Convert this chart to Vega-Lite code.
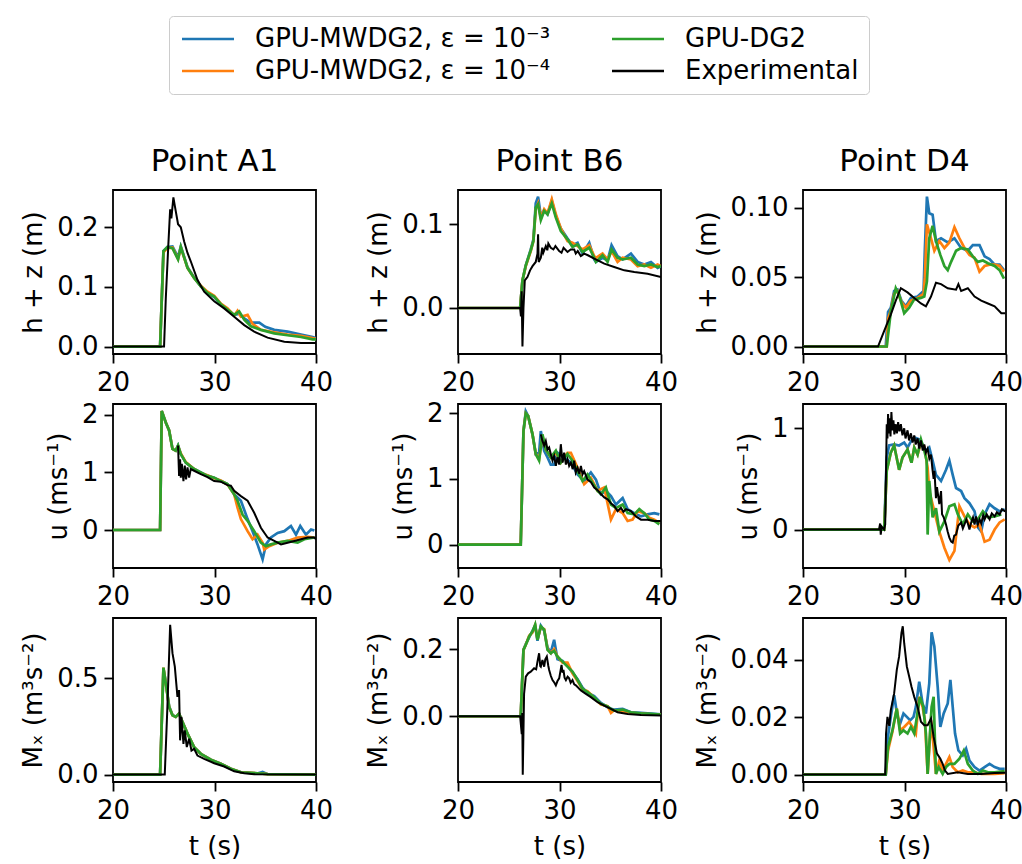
{
"$schema": "https://vega.github.io/schema/vega-lite/v6.json",
"padding": {"left": 19, "top": 15, "right": 5, "bottom": 5},
"background": "white",
"config": {
  "font": "DejaVu Sans",
  "view": {"stroke": "black", "strokeWidth": 1.8},
  "axis": {"grid": false, "domain": false, "tickColor": "black", "tickWidth": 1.8, "tickSize": 9, "labelColor": "black", "labelFontSize": 26, "labelPadding": 6, "titleFontSize": 26, "titleFontWeight": "normal", "titleColor": "black", "titlePadding": 10, "labelFlush": false},
  "title": {"fontSize": 31, "fontWeight": "normal", "color": "black", "offset": 12},
  "legend": {"labelFontSize": 26, "labelColor": "black"}
},
"datasets": {
"A1h": [
{"t":20,"a":0,"b":0,"c":0},{"t":24.64,"a":0,"b":0,"c":0},{"t":24.97,"a":0.16,"b":0.158,"c":0.16},{"t":25.36,"a":0.167,"b":0.165,"c":0.167},{"t":25.86,"a":0.168,"b":0.166,"c":0.165},{"t":26.41,"a":0.15,"b":0.147,"c":0.146},{"t":26.68,"a":0.168,"b":0.166,"c":0.167},{"t":27.34,"a":0.133,"b":0.132,"c":0.132},{"t":27.99,"a":0.116,"b":0.115,"c":0.115},{"t":28.65,"a":0.101,"b":0.102,"c":0.101},{"t":29.31,"a":0.09,"b":0.092,"c":0.09},{"t":29.97,"a":0.083,"b":0.085,"c":0.084},{"t":30.62,"a":0.071,"b":0.072,"c":0.071},{"t":31.28,"a":0.062,"b":0.064,"c":0.062},{"t":31.94,"a":0.053,"b":0.052,"c":0.053},{"t":32.27,"b":0.06},{"t":32.43,"a":0.055,"c":0.059},{"t":32.6,"b":0.05},{"t":32.93,"a":0.047,"c":0.045},{"t":33.26,"b":0.053},{"t":33.59,"a":0.04,"c":0.034},{"t":33.75,"b":0.038},{"t":34.41,"a":0.04},{"t":34.57,"b":0.028,"c":0.028},{"t":35.0,"a":0.033},{"t":35.89,"a":0.028,"b":0.024,"c":0.022},{"t":37.2,"a":0.025,"b":0.02,"c":0.019},{"t":38.52,"a":0.02,"b":0.018,"c":0.016},{"t":39.67,"a":0.016,"b":0.014,"c":0.012},{"t":40,"a":0.014,"b":0.013,"c":0.012},
{"t":20,"e":0},{"t":25.03,"e":0},{"t":25.2,"e":0.08},{"t":25.45,"e":0.17},{"t":25.63,"e":0.23},{"t":25.75,"e":0.215},{"t":25.95,"e":0.25},{"t":26.1,"e":0.235},{"t":26.41,"e":0.205},{"t":26.68,"e":0.2},{"t":27.01,"e":0.176},{"t":27.34,"e":0.157},{"t":27.66,"e":0.143},{"t":28.32,"e":0.112},{"t":28.98,"e":0.092},{"t":29.97,"e":0.076},{"t":30.95,"e":0.064},{"t":31.94,"e":0.05},{"t":32.93,"e":0.036},{"t":33.91,"e":0.025},{"t":35.23,"e":0.015},{"t":36.88,"e":0.008},{"t":38.52,"e":0.006},{"t":40,"e":0.006}
],
"B6h": [
{"t":20,"a":0,"b":0,"c":0},{"t":26.12,"a":0,"b":0,"c":0},{"t":26.35,"a":0.033,"b":0.033,"c":0.033},{"t":26.68,"a":0.051,"b":0.05,"c":0.051},{"t":27.17,"a":0.07,"b":0.068,"c":0.069},{"t":27.43,"a":0.082,"b":0.08,"c":0.08},{"t":27.66,"a":0.125,"b":0.118,"c":0.12},{"t":27.89,"a":0.133,"b":0.125,"c":0.124},{"t":28.16,"a":0.11,"b":0.108,"c":0.105},{"t":28.49,"a":0.117,"b":0.118,"c":0.116},{"t":28.82,"a":0.112,"b":0.113,"c":0.112},{"t":29.24,"a":0.128,"b":0.13,"c":0.125},{"t":29.64,"a":0.11,"b":0.112,"c":0.108},{"t":30.13,"a":0.095,"b":0.095,"c":0.092},{"t":30.79,"a":0.083,"b":0.08,"c":0.082},{"t":31.28,"a":0.075,"b":0.078,"c":0.073},{"t":31.78,"a":0.078,"b":0.074,"c":0.076},{"t":32.27,"a":0.065,"b":0.07,"c":0.067},{"t":32.93,"a":0.078,"b":0.075,"c":0.072},{"t":33.42,"a":0.058,"b":0.062,"c":0.06},{"t":33.59,"a":0.055,"b":0.06,"c":0.055},{"t":34.24,"a":0.06,"b":0.065,"c":0.063},{"t":34.74,"a":0.057,"b":0.058,"c":0.055},{"t":35.13,"a":0.075,"b":0.068,"c":0.07},{"t":35.72,"a":0.062,"b":0.055,"c":0.06},{"t":36.22,"a":0.058,"b":0.06,"c":0.058},{"t":37.04,"a":0.065,"b":0.058,"c":0.06},{"t":37.7,"a":0.055,"b":0.05,"c":0.052},{"t":38.36,"a":0.052,"b":0.052,"c":0.05},{"t":39.01,"a":0.055,"b":0.048,"c":0.052},{"t":39.67,"a":0.048,"b":0.052,"c":0.049},{"t":40,"a":0.05,"b":0.05,"c":0.05},
{"t":20,"e":0},{"t":26.12,"e":0},{"t":26.2,"e":-0.01},{"t":26.27,"e":0.02},{"t":26.35,"e":-0.046},{"t":26.45,"e":0.0},{"t":26.58,"e":0.033},{"t":26.84,"e":0.037},{"t":27.1,"e":0.045},{"t":27.34,"e":0.05},{"t":27.66,"e":0.055},{"t":27.83,"e":0.065},{"t":27.89,"e":0.088},{"t":27.95,"e":0.055},{"t":28.16,"e":0.06},{"t":28.3,"e":0.072},{"t":28.4,"e":0.066},{"t":28.65,"e":0.074},{"t":28.8,"e":0.069},{"t":28.9,"e":0.077},{"t":29.14,"e":0.072},{"t":29.4,"e":0.07},{"t":29.6,"e":0.074},{"t":29.97,"e":0.068},{"t":30.2,"e":0.066},{"t":30.4,"e":0.072},{"t":30.79,"e":0.067},{"t":31.1,"e":0.07},{"t":31.45,"e":0.07},{"t":31.6,"e":0.065},{"t":31.8,"e":0.068},{"t":32.1,"e":0.062},{"t":32.43,"e":0.065},{"t":32.8,"e":0.063},{"t":33.42,"e":0.059},{"t":34.41,"e":0.053},{"t":35.39,"e":0.049},{"t":36.38,"e":0.045},{"t":37.37,"e":0.043},{"t":38.68,"e":0.041},{"t":40,"e":0.037}
],
"D4h": [
{"t":20,"a":0,"b":0,"c":0},{"t":28.15,"a":0},{"t":28.38,"a":0.025},{"t":28.65,"a":0.028},{"t":28.98,"a":0.04},{"t":29.31,"a":0.041},{"t":29.7,"a":0.033},{"t":30.13,"a":0.029},{"t":30.63,"a":0.035},{"t":31.29,"a":0.036},{"t":31.88,"a":0.04},{"t":32.01,"a":0.071},{"t":32.21,"a":0.108},{"t":32.44,"a":0.096},{"t":32.77,"a":0.095},{"t":33.1,"a":0.076},{"t":33.6,"a":0.078},{"t":34.26,"a":0.075},{"t":34.92,"a":0.078},{"t":35.58,"a":0.071},{"t":36.24,"a":0.069},{"t":36.73,"a":0.073},{"t":37.39,"a":0.073},{"t":37.89,"a":0.065},{"t":38.38,"a":0.063},{"t":38.88,"a":0.059},{"t":39.37,"a":0.059},{"t":39.8,"a":0.055},
{"t":28.25,"b":0},{"t":28.38,"b":0.02},{"t":28.65,"b":0.026},{"t":28.98,"b":0.038},{"t":29.31,"b":0.04},{"t":29.7,"b":0.032},{"t":30.13,"b":0.028},{"t":30.63,"b":0.033},{"t":31.29,"b":0.035},{"t":31.88,"b":0.038},{"t":32.01,"b":0.05},{"t":32.21,"b":0.088},{"t":32.61,"b":0.078},{"t":32.94,"b":0.069},{"t":33.43,"b":0.076},{"t":33.93,"b":0.071},{"t":34.42,"b":0.075},{"t":34.92,"b":0.086},{"t":35.41,"b":0.078},{"t":35.91,"b":0.071},{"t":36.4,"b":0.066},{"t":36.9,"b":0.064},{"t":37.39,"b":0.054},{"t":37.89,"b":0.058},{"t":38.38,"b":0.059},{"t":38.88,"b":0.059},{"t":39.37,"b":0.058},{"t":39.8,"b":0.054},
{"t":28.25,"c":0},{"t":28.65,"c":0.025},{"t":29.14,"c":0.042},{"t":29.47,"c":0.037},{"t":29.97,"c":0.024},{"t":30.46,"c":0.028},{"t":30.96,"c":0.034},{"t":31.62,"c":0.035},{"t":31.95,"c":0.036},{"t":32.21,"c":0.047},{"t":32.44,"c":0.078},{"t":32.77,"c":0.087},{"t":33.1,"c":0.076},{"t":33.53,"c":0.066},{"t":33.93,"c":0.058},{"t":34.26,"c":0.055},{"t":34.59,"c":0.061},{"t":35.08,"c":0.069},{"t":35.58,"c":0.071},{"t":36.24,"c":0.07},{"t":36.73,"c":0.065},{"t":37.23,"c":0.061},{"t":37.72,"c":0.062},{"t":38.22,"c":0.06},{"t":38.88,"c":0.058},{"t":39.37,"c":0.055},{"t":39.8,"c":0.049},
{"t":20,"e":0},{"t":27.39,"e":0},{"t":27.99,"e":0.011},{"t":28.65,"e":0.023},{"t":29.14,"e":0.033},{"t":29.64,"e":0.042},{"t":30.3,"e":0.039},{"t":30.96,"e":0.035},{"t":31.62,"e":0.031},{"t":32.11,"e":0.029},{"t":32.61,"e":0.036},{"t":33.1,"e":0.046},{"t":33.6,"e":0.045},{"t":34.26,"e":0.042},{"t":35.08,"e":0.041},{"t":35.31,"e":0.045},{"t":35.58,"e":0.04},{"t":36.24,"e":0.042},{"t":36.9,"e":0.036},{"t":37.56,"e":0.033},{"t":38.22,"e":0.031},{"t":38.88,"e":0.029},{"t":39.54,"e":0.024},{"t":39.93,"e":0.024}
],
"A1u": [
{"t":20,"a":0,"b":0,"c":0},{"t":24.64,"a":0,"b":0,"c":0},{"t":24.8,"a":2.07,"b":2.07,"c":2.07},{"t":25.2,"a":1.87,"b":1.87,"c":1.87},{"t":25.53,"a":1.73,"b":1.73,"c":1.73},{"t":25.86,"a":1.41,"b":1.41,"c":1.41},{"t":26.18,"a":1.38,"b":1.38,"c":1.38},{"t":26.41,"a":1.47,"b":1.46,"c":1.47},{"t":26.68,"a":1.32,"b":1.33,"c":1.32},{"t":27.17,"a":1.17,"b":1.18,"c":1.17},{"t":27.99,"a":1.06,"b":1.06,"c":1.06},{"t":28.65,"a":1.0,"b":0.99,"c":1.0},{"t":29.31,"a":0.94,"b":0.95,"c":0.94},{"t":29.97,"a":0.91,"b":0.9,"c":0.91},{"t":30.62,"a":0.85,"b":0.86,"c":0.85},{"t":31.28,"a":0.8,"b":0.79,"c":0.8},{"t":31.94,"a":0.62,"b":0.62,"c":0.62},
{"t":32.6,"a":0.51},{"t":33.26,"a":0.19},{"t":33.75,"a":-0.02},{"t":34.24,"a":-0.25},{"t":34.74,"a":-0.51},{"t":35.07,"a":-0.25},{"t":35.56,"a":-0.13},{"t":36.22,"a":-0.05},{"t":36.88,"a":-0.02},{"t":37.53,"a":0.07},{"t":38.03,"a":-0.08},{"t":38.45,"a":0.07},{"t":39.01,"a":-0.08},{"t":39.51,"a":0.01},{"t":39.84,"a":-0.01},
{"t":32.27,"b":0.39},{"t":32.6,"b":0.19},{"t":33.26,"b":-0.02},{"t":33.75,"b":-0.16},{"t":34.24,"b":-0.08},{"t":34.74,"b":-0.22},{"t":34.9,"b":-0.34},{"t":35.39,"b":-0.28},{"t":36.22,"b":-0.22},{"t":37.2,"b":-0.19},{"t":38.19,"b":-0.13},{"t":39.18,"b":-0.12},{"t":39.84,"b":-0.13},
{"t":32.27,"c":0.51},{"t":32.76,"c":0.27},{"t":33.26,"c":0.16},{"t":33.91,"c":-0.02},{"t":34.57,"c":-0.22},{"t":35.07,"c":-0.28},{"t":35.56,"c":-0.25},{"t":36.22,"c":-0.22},{"t":37.2,"c":-0.19},{"t":38.19,"c":-0.22},{"t":38.85,"c":-0.16},{"t":39.84,"c":-0.13},
{"t":26.41,"e":1.47},{"t":26.51,"e":0.94},{"t":26.61,"e":1.23},{"t":26.68,"e":0.91},{"t":26.78,"e":1.15},{"t":26.94,"e":0.85},{"t":27.07,"e":1.12},{"t":27.2,"e":0.88},{"t":27.34,"e":1.09},{"t":27.5,"e":0.91},{"t":27.66,"e":1.06},{"t":27.99,"e":1.03},{"t":28.65,"e":0.97},{"t":29.31,"e":0.92},{"t":29.97,"e":0.85},{"t":30.62,"e":0.84},{"t":31.28,"e":0.78},{"t":31.61,"e":0.77},{"t":31.94,"e":0.68},{"t":32.6,"e":0.59},{"t":33.26,"e":0.51},{"t":33.91,"e":0.3},{"t":34.57,"e":0.04},{"t":35.23,"e":-0.13},{"t":35.89,"e":-0.19},{"t":36.55,"e":-0.25},{"t":37.2,"e":-0.22},{"t":37.86,"e":-0.19},{"t":38.52,"e":-0.16},{"t":39.18,"e":-0.13},{"t":39.84,"e":-0.13},{"t":40,"e":-0.16}
],
"B6u": [
{"t":20,"a":0,"b":0,"c":0},{"t":26.18,"a":0,"b":0,"c":0},{"t":26.45,"a":1.73,"b":1.73,"c":1.73},{"t":26.68,"a":2.03,"b":2.0,"c":2.0},{"t":26.91,"a":1.96,"b":1.96,"c":1.96},{"t":27.34,"a":1.68,"b":1.68,"c":1.68},{"t":27.66,"a":1.38,"b":1.38,"c":1.38},
{"t":27.99,"a":1.4},{"t":28.16,"a":1.73},{"t":28.49,"a":1.43},{"t":28.82,"a":1.33},{"t":29.14,"a":1.22},{"t":29.47,"a":1.22},{"t":29.8,"a":1.4},{"t":30.46,"a":1.33},{"t":31.12,"a":1.25},{"t":31.78,"a":1.07},{"t":32.43,"a":0.97},{"t":33.09,"a":1.1},{"t":33.59,"a":0.99},{"t":34.08,"a":0.77},{"t":34.57,"a":0.82},{"t":35.07,"a":0.74},{"t":35.56,"a":0.61},{"t":36.22,"a":0.71},{"t":36.71,"a":0.54},{"t":37.37,"a":0.48},{"t":38.03,"a":0.43},{"t":38.68,"a":0.46},{"t":39.34,"a":0.48},{"t":39.84,"a":0.46},
{"t":27.99,"b":1.3},{"t":28.32,"b":1.65},{"t":28.65,"b":1.45},{"t":29.14,"b":1.33},{"t":29.64,"b":1.4},{"t":30.13,"b":1.25},{"t":30.79,"b":1.4},{"t":31.12,"b":1.4},{"t":31.78,"b":1.17},{"t":32.43,"b":0.92},{"t":33.09,"b":1.02},{"t":33.75,"b":0.82},{"t":34.41,"b":0.87},{"t":35.07,"b":0.38},{"t":35.56,"b":0.54},{"t":36.22,"b":0.48},{"t":36.71,"b":0.36},{"t":37.2,"b":0.38},{"t":37.7,"b":0.51},{"t":38.36,"b":0.48},{"t":38.85,"b":0.41},{"t":39.34,"b":0.38},{"t":39.84,"b":0.33},
{"t":27.99,"c":1.28},{"t":28.32,"c":1.68},{"t":28.65,"c":1.45},{"t":29.14,"c":1.33},{"t":29.64,"c":1.43},{"t":30.13,"c":1.25},{"t":30.79,"c":1.38},{"t":31.28,"c":1.28},{"t":31.78,"c":1.12},{"t":32.27,"c":0.97},{"t":32.76,"c":1.07},{"t":33.26,"c":0.94},{"t":33.75,"c":0.82},{"t":34.08,"c":0.77},{"t":34.57,"c":0.87},{"t":35.07,"c":0.61},{"t":35.56,"c":0.56},{"t":36.22,"c":0.61},{"t":36.71,"c":0.48},{"t":37.37,"c":0.46},{"t":37.86,"c":0.54},{"t":38.36,"c":0.48},{"t":38.85,"c":0.38},{"t":39.34,"c":0.36},{"t":39.84,"c":0.31},
{"t":28.16,"e":1.68},{"t":28.32,"e":1.58},{"t":28.49,"e":1.51},{"t":28.65,"e":1.58},{"t":28.82,"e":1.45},{"t":28.98,"e":1.48},{"t":29.14,"e":1.38},{"t":29.31,"e":1.28},{"t":29.47,"e":1.35},{"t":29.64,"e":1.2},{"t":29.8,"e":1.33},{"t":29.97,"e":1.22},{"t":30.13,"e":1.53},{"t":30.3,"e":1.25},{"t":30.46,"e":1.4},{"t":30.63,"e":1.22},{"t":30.79,"e":1.3},{"t":30.95,"e":1.2},{"t":31.12,"e":1.25},{"t":31.3,"e":1.15},{"t":31.45,"e":1.28},{"t":31.6,"e":1.1},{"t":31.78,"e":1.17},{"t":31.95,"e":1.08},{"t":32.11,"e":1.2},{"t":32.27,"e":1.07},{"t":32.43,"e":1.12},{"t":32.76,"e":0.99},{"t":33.1,"e":0.95},{"t":33.42,"e":0.87},{"t":33.75,"e":0.83},{"t":34.08,"e":0.77},{"t":34.41,"e":0.72},{"t":34.74,"e":0.69},{"t":35.07,"e":0.63},{"t":35.39,"e":0.59},{"t":35.72,"e":0.51},{"t":36.05,"e":0.56},{"t":36.3,"e":0.5},{"t":36.55,"e":0.54},{"t":37.04,"e":0.51},{"t":37.53,"e":0.43},{"t":38.03,"e":0.38},{"t":38.68,"e":0.38},{"t":39.34,"e":0.36},{"t":40,"e":0.36}
],
"D4u": [
{"t":20,"a":0,"b":0,"c":0},{"t":28.0,"a":0,"b":0,"c":0},
{"t":28.25,"a":0.71},{"t":28.48,"a":0.83},{"t":28.98,"a":0.84},{"t":29.47,"a":0.83},{"t":29.97,"a":0.86},{"t":30.3,"a":0.81},{"t":30.63,"a":0.87},{"t":30.96,"a":0.91},{"t":31.45,"a":0.89},{"t":31.78,"a":0.84},{"t":32.11,"a":0.78},{"t":32.44,"a":0.81},{"t":32.77,"a":0.68},{"t":33.1,"a":0.54},{"t":33.6,"a":0.48},{"t":34.09,"a":0.59},{"t":34.42,"a":0.68},{"t":34.75,"a":0.54},{"t":35.08,"a":0.41},{"t":35.58,"a":0.38},{"t":35.91,"a":0.31},{"t":36.4,"a":0.26},{"t":36.9,"a":0.18},{"t":37.23,"a":0.02},{"t":37.56,"a":-0.02},{"t":37.89,"a":0.15},{"t":38.38,"a":0.25},{"t":38.88,"a":0.21},{"t":39.37,"a":0.18},{"t":39.87,"a":0.2},
{"t":28.25,"b":0.58},{"t":28.65,"b":0.76},{"t":28.98,"b":0.83},{"t":29.47,"b":0.59},{"t":29.8,"b":0.71},{"t":30.3,"b":0.79},{"t":30.69,"b":0.66},{"t":30.96,"b":0.81},{"t":31.29,"b":0.74},{"t":31.62,"b":0.85},{"t":31.95,"b":0.82},{"t":32.28,"b":0.61},{"t":32.44,"b":0.38},{"t":32.94,"b":0.18},{"t":33.43,"b":-0.02},{"t":33.93,"b":-0.18},{"t":34.42,"b":-0.3},{"t":34.92,"b":-0.21},{"t":35.41,"b":0.23},{"t":35.91,"b":0.13},{"t":36.4,"b":0.05},{"t":36.9,"b":0.02},{"t":37.39,"b":0.05},{"t":37.89,"b":-0.12},{"t":38.38,"b":-0.1},{"t":38.88,"b":0.0},{"t":39.37,"b":0.07},{"t":39.87,"b":0.1},
{"t":28.25,"c":0.58},{"t":28.65,"c":0.76},{"t":28.98,"c":0.83},{"t":29.47,"c":0.59},{"t":29.8,"c":0.71},{"t":30.3,"c":0.79},{"t":30.69,"c":0.66},{"t":30.96,"c":0.81},{"t":31.29,"c":0.74},{"t":31.62,"c":0.89},{"t":31.95,"c":0.78},{"t":32.18,"c":0.68},{"t":32.28,"c":-0.05},{"t":32.44,"c":0.48},{"t":32.77,"c":0.12},{"t":33.1,"c":0.21},{"t":33.43,"c":-0.02},{"t":33.93,"c":0.08},{"t":34.42,"c":0.23},{"t":34.92,"c":0.25},{"t":35.25,"c":0.15},{"t":35.74,"c":0.05},{"t":36.24,"c":0.15},{"t":36.73,"c":0.08},{"t":37.23,"c":0.1},{"t":37.72,"c":0.18},{"t":38.22,"c":0.12},{"t":38.88,"c":0.13},{"t":39.54,"c":0.15},
{"t":20,"e":0},{"t":27.49,"e":0},{"t":27.6,"e":0.06},{"t":27.66,"e":-0.05},{"t":27.75,"e":0.03},{"t":27.99,"e":0},{"t":28.1,"e":0.05},{"t":28.25,"e":1.04},{"t":28.32,"e":0.9},{"t":28.38,"e":1.14},{"t":28.45,"e":0.95},{"t":28.55,"e":1.1},{"t":28.62,"e":0.92},{"t":28.71,"e":1.16},{"t":28.8,"e":0.98},{"t":28.91,"e":1.08},{"t":29.0,"e":0.94},{"t":29.14,"e":1.04},{"t":29.25,"e":0.95},{"t":29.37,"e":1.06},{"t":29.5,"e":0.97},{"t":29.64,"e":1.04},{"t":29.8,"e":0.93},{"t":29.97,"e":1.0},{"t":30.1,"e":0.9},{"t":30.3,"e":0.98},{"t":30.45,"e":0.88},{"t":30.63,"e":0.95},{"t":30.8,"e":0.86},{"t":30.96,"e":0.93},{"t":31.1,"e":0.84},{"t":31.29,"e":0.9},{"t":31.45,"e":0.8},{"t":31.62,"e":0.88},{"t":31.8,"e":0.78},{"t":31.95,"e":0.84},{"t":32.1,"e":0.76},{"t":32.28,"e":0.8},{"t":32.45,"e":0.7},{"t":32.61,"e":0.74},{"t":32.75,"e":0.6},{"t":32.87,"e":0.5},{"t":32.95,"e":0.58},{"t":33.1,"e":0.31},{"t":33.2,"e":0.42},{"t":33.43,"e":0.25},{"t":33.6,"e":0.38},{"t":33.7,"e":0.15},{"t":33.86,"e":0.12},{"t":34.0,"e":0.08},{"t":34.09,"e":0.05},{"t":34.25,"e":-0.02},{"t":34.42,"e":-0.08},{"t":34.6,"e":-0.12},{"t":34.75,"e":-0.13},{"t":34.9,"e":-0.06},{"t":35.08,"e":-0.05},{"t":35.3,"e":0.04},{"t":35.58,"e":0.07},{"t":35.75,"e":0.01},{"t":35.91,"e":0.05},{"t":36.1,"e":0.1},{"t":36.24,"e":0.06},{"t":36.4,"e":0.0},{"t":36.57,"e":0.07},{"t":36.75,"e":0.12},{"t":36.9,"e":0.05},{"t":37.05,"e":0.13},{"t":37.23,"e":0.05},{"t":37.4,"e":0.1},{"t":37.56,"e":0.06},{"t":37.75,"e":0.14},{"t":37.89,"e":0.1},{"t":38.1,"e":0.15},{"t":38.38,"e":0.1},{"t":38.6,"e":0.16},{"t":38.88,"e":0.13},{"t":39.1,"e":0.17},{"t":39.37,"e":0.15},{"t":39.6,"e":0.2},{"t":39.93,"e":0.18}
],
"A1m": [
{"t":20,"a":0,"b":0,"c":0},{"t":24.64,"a":0,"b":0,"c":0},{"t":24.97,"a":0.55,"b":0.556,"c":0.556},{"t":25.2,"a":0.48,"b":0.474,"c":0.474},{"t":25.53,"a":0.355,"b":0.352,"c":0.352},{"t":25.86,"a":0.31,"b":0.308,"c":0.308},{"t":26.18,"a":0.3,"b":0.3,"c":0.3},{"t":26.51,"a":0.318,"b":0.317,"c":0.317},{"t":26.84,"a":0.275,"b":0.274,"c":0.274},{"t":27.34,"a":0.213,"b":0.213,"c":0.213},{"t":27.99,"a":0.143,"b":0.143,"c":0.143},{"t":28.65,"a":0.108,"b":0.108,"c":0.108},{"t":29.64,"a":0.077,"b":0.077,"c":0.077},{"t":30.62,"a":0.056,"b":0.056,"c":0.056},{"t":31.61,"a":0.03,"b":0.03,"c":0.03},{"t":32.6,"a":0.012,"b":0.012,"c":0.012},{"t":34.2,"a":0.006,"b":0.007,"c":0.007},{"t":34.74,"a":0.014,"b":0.005,"c":0.005},{"t":35.23,"a":0.002,"b":0.002,"c":0.002},{"t":40,"a":0,"b":0,"c":0},
{"t":20,"e":0},{"t":25.1,"e":0},{"t":25.36,"e":0.352},{"t":25.63,"e":0.779},{"t":25.86,"e":0.631},{"t":26.09,"e":0.561},{"t":26.35,"e":0.404},{"t":26.51,"e":0.439},{"t":26.61,"e":0.178},{"t":26.74,"e":0.3},{"t":26.94,"e":0.16},{"t":27.07,"e":0.23},{"t":27.27,"e":0.143},{"t":27.5,"e":0.186},{"t":27.73,"e":0.125},{"t":27.99,"e":0.134},{"t":28.32,"e":0.099},{"t":28.98,"e":0.082},{"t":29.97,"e":0.059},{"t":30.95,"e":0.042},{"t":31.94,"e":0.017},{"t":32.93,"e":0.007},{"t":33.91,"e":0.002},{"t":40,"e":0}
],
"B6m": [
{"t":20,"a":0,"b":0,"c":0},{"t":26.18,"a":0,"b":0,"c":0},{"t":26.45,"a":0.198,"b":0.198,"c":0.198},{"t":26.68,"a":0.215,"b":0.213,"c":0.213},{"t":27.01,"a":0.235,"b":0.24,"c":0.238},{"t":27.34,"a":0.255,"b":0.25,"c":0.253},{"t":27.6,"a":0.27,"b":0.272,"c":0.273},{"t":27.83,"a":0.225,"b":0.23,"c":0.228},{"t":28.16,"a":0.27,"b":0.265,"c":0.268},{"t":28.49,"a":0.255,"b":0.26,"c":0.258},{"t":28.82,"a":0.205,"b":0.2,"c":0.198},{"t":29.14,"a":0.19,"b":0.188,"c":0.188},{"t":29.47,"a":0.228,"b":0.2,"c":0.195},{"t":29.8,"a":0.17,"b":0.178,"c":0.178},{"t":30.3,"a":0.165,"b":0.16,"c":0.163},{"t":30.79,"a":0.15,"b":0.16,"c":0.148},{"t":31.28,"a":0.13,"b":0.128,"c":0.133},{"t":31.78,"a":0.11,"b":0.105,"c":0.108},{"t":32.27,"a":0.085,"b":0.08,"c":0.082},{"t":32.76,"a":0.07,"b":0.075,"c":0.072},{"t":33.42,"a":0.06,"b":0.055,"c":0.057},{"t":34.08,"a":0.04,"b":0.035,"c":0.037},{"t":34.74,"a":0.027,"b":0.03,"c":0.029},{"t":35.07,"a":0.022,"b":0.01,"c":0.022},{"t":35.39,"a":0.02,"b":0.018,"c":0.017},{"t":36.22,"a":0.022,"b":0.015,"c":0.02},{"t":37.04,"a":0.012,"b":0.01,"c":0.012},{"t":38.03,"a":0.01,"b":0.008,"c":0.009},{"t":39.01,"a":0.008,"b":0.006,"c":0.007},{"t":40,"a":0.006,"b":0.005,"c":0.005},
{"t":20,"e":0},{"t":26.12,"e":0},{"t":26.28,"e":-0.053},{"t":26.33,"e":0.01},{"t":26.38,"e":-0.174},{"t":26.51,"e":0.067},{"t":26.68,"e":0.118},{"t":26.91,"e":0.128},{"t":27.17,"e":0.133},{"t":27.5,"e":0.143},{"t":27.7,"e":0.14},{"t":27.83,"e":0.163},{"t":27.99,"e":0.188},{"t":28.1,"e":0.15},{"t":28.16,"e":0.148},{"t":28.32,"e":0.168},{"t":28.49,"e":0.148},{"t":28.6,"e":0.17},{"t":28.75,"e":0.178},{"t":28.9,"e":0.15},{"t":28.98,"e":0.138},{"t":29.15,"e":0.12},{"t":29.31,"e":0.108},{"t":29.5,"e":0.1},{"t":29.64,"e":0.092},{"t":29.8,"e":0.105},{"t":29.97,"e":0.113},{"t":30.2,"e":0.153},{"t":30.3,"e":0.13},{"t":30.39,"e":0.138},{"t":30.5,"e":0.115},{"t":30.63,"e":0.108},{"t":30.8,"e":0.118},{"t":30.95,"e":0.113},{"t":31.1,"e":0.1},{"t":31.28,"e":0.108},{"t":31.45,"e":0.095},{"t":31.61,"e":0.092},{"t":32.11,"e":0.077},{"t":32.6,"e":0.067},{"t":33.09,"e":0.057},{"t":33.75,"e":0.042},{"t":34.41,"e":0.032},{"t":35.07,"e":0.022},{"t":35.72,"e":0.012},{"t":36.71,"e":0.007},{"t":38.03,"e":0.004},{"t":40,"e":0.002}
],
"D4m": [
{"t":20,"a":0,"b":0,"c":0},{"t":28.15,"a":0,"b":0,"c":0},
{"t":28.32,"a":0.0119},{"t":28.65,"a":0.0201},{"t":28.98,"a":0.0277},{"t":29.31,"a":0.0201},{"t":29.57,"a":0.0178},{"t":29.9,"a":0.0213},{"t":30.23,"a":0.0201},{"t":30.56,"a":0.0189},{"t":30.89,"a":0.0201},{"t":31.12,"a":0.0236},{"t":31.45,"a":0.0324},{"t":31.78,"a":0.0248},{"t":32.11,"a":0.0213},{"t":32.44,"a":0.0318},{"t":32.67,"a":0.0496},{"t":32.94,"a":0.0447},{"t":33.27,"a":0.0306},{"t":33.53,"a":0.0166},{"t":33.86,"a":0.0213},{"t":34.26,"a":0.0248},{"t":34.52,"a":0.033},{"t":34.75,"a":0.0236},{"t":34.98,"a":0.0143},{"t":35.31,"a":0.0084},{"t":35.74,"a":0.0067},{"t":36.07,"a":0.009},{"t":36.4,"a":0.0049},{"t":36.9,"a":0.0026},{"t":37.39,"a":0.0014},{"t":37.89,"a":0.0026},{"t":38.38,"a":0.0037},{"t":38.88,"a":0.0026},{"t":39.37,"a":0.002},{"t":39.87,"a":0.002},
{"t":28.38,"b":0.0084},{"t":28.81,"b":0.0149},{"t":29.24,"b":0.023},{"t":29.57,"b":0.0154},{"t":29.97,"b":0.0166},{"t":30.46,"b":0.0184},{"t":30.79,"b":0.0166},{"t":31.12,"b":0.0143},{"t":31.45,"b":0.0271},{"t":31.78,"b":0.0236},{"t":32.01,"b":0.0189},{"t":32.28,"b":0.0002},{"t":32.61,"b":0.0189},{"t":32.87,"b":0.0096},{"t":33.1,"b":0.0002},{"t":33.43,"b":0.0049},{"t":33.76,"b":0.0014},{"t":34.09,"b":0.0037},{"t":34.42,"b":0.0061},{"t":34.75,"b":0.0026},{"t":35.25,"b":0.0008},{"t":35.74,"b":0.0014},{"t":36.24,"b":0.0008},{"t":36.9,"b":0.0008},{"t":37.56,"b":0.0002},{"t":38.88,"b":0.0002},{"t":39.87,"b":0.0005},
{"t":28.38,"c":0.0096},{"t":28.81,"c":0.0154},{"t":29.24,"c":0.023},{"t":29.57,"c":0.0143},{"t":29.9,"c":0.0154},{"t":30.3,"c":0.0143},{"t":30.63,"c":0.0166},{"t":30.96,"c":0.0143},{"t":31.22,"c":0.0201},{"t":31.52,"c":0.0271},{"t":31.85,"c":0.0236},{"t":32.11,"c":0.0143},{"t":32.28,"c":0.0002},{"t":32.51,"c":0.0143},{"t":32.67,"c":0.0236},{"t":32.87,"c":0.0271},{"t":33.1,"c":0.0002},{"t":33.37,"c":0.0026},{"t":33.76,"c":0.0002},{"t":34.09,"c":0.0026},{"t":34.42,"c":0.0037},{"t":34.92,"c":0.0037},{"t":35.41,"c":0.0055},{"t":35.84,"c":0.0084},{"t":36.24,"c":0.0037},{"t":36.73,"c":0.0014},{"t":37.23,"c":0.0002},{"t":37.72,"c":0.0014},{"t":38.22,"c":0.0008},{"t":38.88,"c":0.0008},{"t":39.87,"c":0.0012},
{"t":20,"e":0},{"t":28.1,"e":0},{"t":28.18,"e":0.0143},{"t":28.32,"e":0.0201},{"t":28.5,"e":0.017},{"t":28.65,"e":0.0225},{"t":28.98,"e":0.0283},{"t":29.24,"e":0.0365},{"t":29.47,"e":0.0412},{"t":29.7,"e":0.0494},{"t":29.83,"e":0.0517},{"t":29.97,"e":0.0458},{"t":30.23,"e":0.0377},{"t":30.46,"e":0.0342},{"t":30.69,"e":0.0306},{"t":30.96,"e":0.0271},{"t":31.29,"e":0.0236},{"t":31.62,"e":0.0184},{"t":31.95,"e":0.0172},{"t":32.28,"e":0.0172},{"t":32.61,"e":0.0195},{"t":32.87,"e":0.0131},{"t":33.2,"e":0.0073},{"t":33.53,"e":0.0055},{"t":33.76,"e":0.0037},{"t":33.99,"e":0.0014},{"t":34.26,"e":0.0002},{"t":35.25,"e":0.0008},{"t":36.24,"e":0.0002},{"t":37.56,"e":0.0002},{"t":38.88,"e":0.0005},{"t":39.93,"e":0.0006}
]
},
"columns": 3,
"spacing": {"row": 50, "column": 142},
"bounds": "flush",
"resolve": {"scale": {"color": "shared"}},
"concat": [
{"width": 203, "height": 164, "title": "Point A1", "data": {"name": "A1h"},
 "transform": [{"fold": ["a","b","c","e"], "as": ["s","v"]}, {"filter": "isValid(datum.v)"}],
 "encoding": {
  "x": {"field": "t", "type": "quantitative", "scale": {"domain": [20, 40], "nice": false}, "axis": {"values": [20, 30, 40], "title": null}},
  "y": {"field": "v", "type": "quantitative", "scale": {"domain": [-0.0125, 0.2625], "nice": false, "zero": false}, "axis": {"values": [0, 0.1, 0.2], "format": ".1f", "title": "h + z (m)"}},
  "color": {"field": "s", "type": "nominal", "scale": {"domain": ["a","b","c","e"], "range": ["#1f77b4","#ff7f0e","#2ca02c","#000000"]},
   "legend": {"title": null, "orient": "none", "legendX": 56, "legendY": -174, "columns": 2, "direction": "vertical", "symbolType": "M-1,0L4.2,0", "symbolSize": 400, "symbolStrokeWidth": 2.5, "symbolFillColor": "transparent", "labelOffset": 50, "labelLimit": 0, "columnPadding": 56, "rowPadding": 6, "padding": 10, "strokeColor": "#cccccc", "fillColor": "white", "cornerRadius": 4, "labelFontSize": 26,
    "labelExpr": "datum.value == 'a' ? 'GPU-MWDG2, ε = 10⁻³' : datum.value == 'b' ? 'GPU-MWDG2, ε = 10⁻⁴' : datum.value == 'c' ? 'GPU-DG2' : 'Experimental'"}}
 },
 "layer": [
  {"transform": [{"filter": "datum.s != 'e'"}], "mark": {"type": "line", "strokeWidth": 2.7, "clip": true}},
  {"transform": [{"filter": "datum.s == 'e'"}], "mark": {"type": "line", "strokeWidth": 2, "clip": true}}
 ]},
{"width": 203, "height": 164, "title": "Point B6", "data": {"name": "B6h"},
 "transform": [{"fold": ["a","b","c","e"], "as": ["s","v"]}, {"filter": "isValid(datum.v)"}],
 "encoding": {
  "x": {"field": "t", "type": "quantitative", "scale": {"domain": [20, 40], "nice": false}, "axis": {"values": [20, 30, 40], "title": null}},
  "y": {"field": "v", "type": "quantitative", "scale": {"domain": [-0.055, 0.141], "nice": false, "zero": false}, "axis": {"values": [0, 0.1], "format": ".1f", "title": "h + z (m)"}},
  "color": {"field": "s", "type": "nominal"}
 },
 "layer": [
  {"transform": [{"filter": "datum.s != 'e'"}], "mark": {"type": "line", "strokeWidth": 2.7, "clip": true}},
  {"transform": [{"filter": "datum.s == 'e'"}], "mark": {"type": "line", "strokeWidth": 2, "clip": true}}
 ]},
{"width": 203, "height": 164, "title": "Point D4", "data": {"name": "D4h"},
 "transform": [{"fold": ["a","b","c","e"], "as": ["s","v"]}, {"filter": "isValid(datum.v)"}],
 "encoding": {
  "x": {"field": "t", "type": "quantitative", "scale": {"domain": [20, 40], "nice": false}, "axis": {"values": [20, 30, 40], "title": null}},
  "y": {"field": "v", "type": "quantitative", "scale": {"domain": [-0.0054, 0.1128], "nice": false, "zero": false}, "axis": {"values": [0, 0.05, 0.1], "format": ".2f", "title": "h + z (m)"}},
  "color": {"field": "s", "type": "nominal"}
 },
 "layer": [
  {"transform": [{"filter": "datum.s != 'e'"}], "mark": {"type": "line", "strokeWidth": 2.7, "clip": true}},
  {"transform": [{"filter": "datum.s == 'e'"}], "mark": {"type": "line", "strokeWidth": 2, "clip": true}}
 ]},
{"width": 203, "height": 164, "data": {"name": "A1u"},
 "transform": [{"fold": ["a","b","c","e"], "as": ["s","v"]}, {"filter": "isValid(datum.v)"}],
 "encoding": {
  "x": {"field": "t", "type": "quantitative", "scale": {"domain": [20, 40], "nice": false}, "axis": {"values": [20, 30, 40], "title": null}},
  "y": {"field": "v", "type": "quantitative", "scale": {"domain": [-0.66, 2.19], "nice": false, "zero": false}, "axis": {"values": [0, 1, 2], "format": "d", "title": "u (ms⁻¹)"}},
  "color": {"field": "s", "type": "nominal"}
 },
 "layer": [
  {"transform": [{"filter": "datum.s != 'e'"}], "mark": {"type": "line", "strokeWidth": 2.7, "clip": true}},
  {"transform": [{"filter": "datum.s == 'e'"}], "mark": {"type": "line", "strokeWidth": 2, "clip": true}}
 ]},
{"width": 203, "height": 164, "data": {"name": "B6u"},
 "transform": [{"fold": ["a","b","c","e"], "as": ["s","v"]}, {"filter": "isValid(datum.v)"}],
 "encoding": {
  "x": {"field": "t", "type": "quantitative", "scale": {"domain": [20, 40], "nice": false}, "axis": {"values": [20, 30, 40], "title": null}},
  "y": {"field": "v", "type": "quantitative", "scale": {"domain": [-0.357, 2.143], "nice": false, "zero": false}, "axis": {"values": [0, 1, 2], "format": "d", "title": "u (ms⁻¹)"}},
  "color": {"field": "s", "type": "nominal"}
 },
 "layer": [
  {"transform": [{"filter": "datum.s != 'e'"}], "mark": {"type": "line", "strokeWidth": 2.7, "clip": true}},
  {"transform": [{"filter": "datum.s == 'e'"}], "mark": {"type": "line", "strokeWidth": 2, "clip": true}}
 ]},
{"width": 203, "height": 164, "data": {"name": "D4u"},
 "transform": [{"fold": ["a","b","c","e"], "as": ["s","v"]}, {"filter": "isValid(datum.v)"}],
 "encoding": {
  "x": {"field": "t", "type": "quantitative", "scale": {"domain": [20, 40], "nice": false}, "axis": {"values": [20, 30, 40], "title": null}},
  "y": {"field": "v", "type": "quantitative", "scale": {"domain": [-0.38, 1.24], "nice": false, "zero": false}, "axis": {"values": [0, 1], "format": "d", "title": "u (ms⁻¹)"}},
  "color": {"field": "s", "type": "nominal"}
 },
 "layer": [
  {"transform": [{"filter": "datum.s != 'e'"}], "mark": {"type": "line", "strokeWidth": 2.7, "clip": true}},
  {"transform": [{"filter": "datum.s == 'e'"}], "mark": {"type": "line", "strokeWidth": 2, "clip": true}}
 ]},
{"width": 203, "height": 164, "data": {"name": "A1m"},
 "transform": [{"fold": ["a","b","c","e"], "as": ["s","v"]}, {"filter": "isValid(datum.v)"}],
 "encoding": {
  "x": {"field": "t", "type": "quantitative", "scale": {"domain": [20, 40], "nice": false}, "axis": {"values": [20, 30, 40], "title": "t (s)"}},
  "y": {"field": "v", "type": "quantitative", "scale": {"domain": [-0.0385, 0.814], "nice": false, "zero": false}, "axis": {"values": [0, 0.5], "format": ".1f", "title": "Mₓ (m³s⁻²)"}},
  "color": {"field": "s", "type": "nominal"}
 },
 "layer": [
  {"transform": [{"filter": "datum.s != 'e'"}], "mark": {"type": "line", "strokeWidth": 2.7, "clip": true}},
  {"transform": [{"filter": "datum.s == 'e'"}], "mark": {"type": "line", "strokeWidth": 2, "clip": true}}
 ]},
{"width": 203, "height": 164, "data": {"name": "B6m"},
 "transform": [{"fold": ["a","b","c","e"], "as": ["s","v"]}, {"filter": "isValid(datum.v)"}],
 "encoding": {
  "x": {"field": "t", "type": "quantitative", "scale": {"domain": [20, 40], "nice": false}, "axis": {"values": [20, 30, 40], "title": "t (s)"}},
  "y": {"field": "v", "type": "quantitative", "scale": {"domain": [-0.196, 0.293], "nice": false, "zero": false}, "axis": {"values": [0, 0.2], "format": ".1f", "title": "Mₓ (m³s⁻²)"}},
  "color": {"field": "s", "type": "nominal"}
 },
 "layer": [
  {"transform": [{"filter": "datum.s != 'e'"}], "mark": {"type": "line", "strokeWidth": 2.7, "clip": true}},
  {"transform": [{"filter": "datum.s == 'e'"}], "mark": {"type": "line", "strokeWidth": 2, "clip": true}}
 ]},
{"width": 203, "height": 164, "data": {"name": "D4m"},
 "transform": [{"fold": ["a","b","c","e"], "as": ["s","v"]}, {"filter": "isValid(datum.v)"}],
 "encoding": {
  "x": {"field": "t", "type": "quantitative", "scale": {"domain": [20, 40], "nice": false}, "axis": {"values": [20, 30, 40], "title": "t (s)"}},
  "y": {"field": "v", "type": "quantitative", "scale": {"domain": [-0.0026, 0.0546], "nice": false, "zero": false}, "axis": {"values": [0, 0.02, 0.04], "format": ".2f", "title": "Mₓ (m³s⁻²)"}},
  "color": {"field": "s", "type": "nominal"}
 },
 "layer": [
  {"transform": [{"filter": "datum.s != 'e'"}], "mark": {"type": "line", "strokeWidth": 2.7, "clip": true}},
  {"transform": [{"filter": "datum.s == 'e'"}], "mark": {"type": "line", "strokeWidth": 2, "clip": true}}
 ]}
]
}
